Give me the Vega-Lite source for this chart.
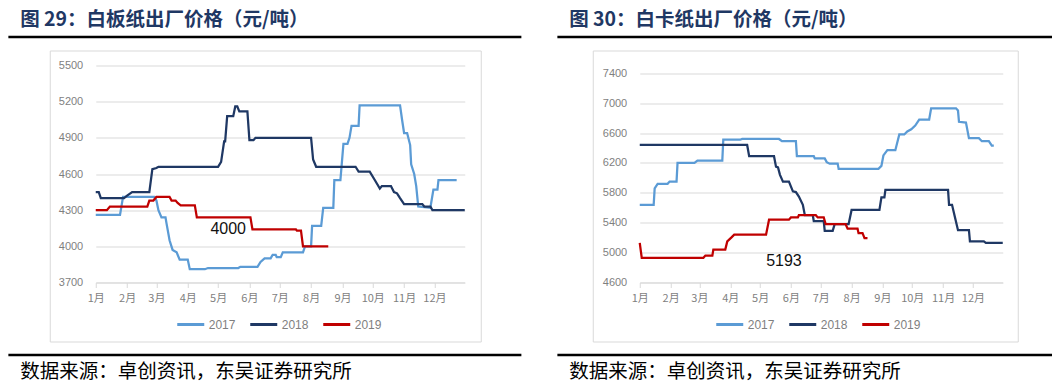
{
  "$schema": "https://vega.github.io/schema/vega-lite/v6.json",
  "padding": {"left": 7, "top": 10, "right": 0, "bottom": 0},
  "background": "white",
  "datasets": {
    "board": [
      {"year":"2017","date":"2017-01-01","price":4260},{"year":"2017","date":"2017-01-25","price":4260},{"year":"2017","date":"2017-01-28","price":4410},{"year":"2017","date":"2017-02-28","price":4410},{"year":"2017","date":"2017-03-01","price":4380},{"year":"2017","date":"2017-03-03","price":4300},{"year":"2017","date":"2017-03-06","price":4240},{"year":"2017","date":"2017-03-10","price":4240},{"year":"2017","date":"2017-03-11","price":4190},{"year":"2017","date":"2017-03-14","price":4050},{"year":"2017","date":"2017-03-17","price":3970},{"year":"2017","date":"2017-03-21","price":3950},{"year":"2017","date":"2017-03-24","price":3890},{"year":"2017","date":"2017-04-01","price":3890},{"year":"2017","date":"2017-04-03","price":3810},{"year":"2017","date":"2017-04-18","price":3810},{"year":"2017","date":"2017-04-21","price":3820},{"year":"2017","date":"2017-05-21","price":3820},{"year":"2017","date":"2017-05-23","price":3830},{"year":"2017","date":"2017-06-09","price":3830},{"year":"2017","date":"2017-06-12","price":3870},{"year":"2017","date":"2017-06-16","price":3900},{"year":"2017","date":"2017-06-22","price":3900},{"year":"2017","date":"2017-06-24","price":3930},{"year":"2017","date":"2017-06-27","price":3930},{"year":"2017","date":"2017-06-28","price":3910},{"year":"2017","date":"2017-07-02","price":3910},{"year":"2017","date":"2017-07-04","price":3950},{"year":"2017","date":"2017-07-24","price":3950},{"year":"2017","date":"2017-07-26","price":4000},{"year":"2017","date":"2017-08-01","price":4000},{"year":"2017","date":"2017-08-02","price":4170},{"year":"2017","date":"2017-08-11","price":4170},{"year":"2017","date":"2017-08-13","price":4320},{"year":"2017","date":"2017-08-23","price":4320},{"year":"2017","date":"2017-08-24","price":4550},{"year":"2017","date":"2017-08-30","price":4550},{"year":"2017","date":"2017-09-02","price":4850},{"year":"2017","date":"2017-09-06","price":4850},{"year":"2017","date":"2017-09-08","price":4900},{"year":"2017","date":"2017-09-10","price":5000},{"year":"2017","date":"2017-09-17","price":5000},{"year":"2017","date":"2017-09-18","price":5170},{"year":"2017","date":"2017-10-28","price":5170},{"year":"2017","date":"2017-10-30","price":5050},{"year":"2017","date":"2017-11-01","price":4940},{"year":"2017","date":"2017-11-04","price":4940},{"year":"2017","date":"2017-11-07","price":4840},{"year":"2017","date":"2017-11-08","price":4680},{"year":"2017","date":"2017-11-11","price":4600},{"year":"2017","date":"2017-11-13","price":4500},{"year":"2017","date":"2017-11-15","price":4330},{"year":"2017","date":"2017-11-27","price":4320},{"year":"2017","date":"2017-11-30","price":4470},{"year":"2017","date":"2017-12-04","price":4470},{"year":"2017","date":"2017-12-05","price":4550},{"year":"2017","date":"2017-12-23","price":4550},
      {"year":"2018","date":"2018-01-01","price":4450},{"year":"2018","date":"2018-01-04","price":4450},{"year":"2018","date":"2018-01-06","price":4400},{"year":"2018","date":"2018-01-29","price":4400},{"year":"2018","date":"2018-02-01","price":4420},{"year":"2018","date":"2018-02-06","price":4450},{"year":"2018","date":"2018-02-23","price":4450},{"year":"2018","date":"2018-02-26","price":4640},{"year":"2018","date":"2018-03-01","price":4650},{"year":"2018","date":"2018-03-03","price":4660},{"year":"2018","date":"2018-05-01","price":4660},{"year":"2018","date":"2018-05-04","price":4700},{"year":"2018","date":"2018-05-07","price":4870},{"year":"2018","date":"2018-05-08","price":4870},{"year":"2018","date":"2018-05-10","price":5080},{"year":"2018","date":"2018-05-16","price":5080},{"year":"2018","date":"2018-05-18","price":5160},{"year":"2018","date":"2018-05-20","price":5160},{"year":"2018","date":"2018-05-22","price":5120},{"year":"2018","date":"2018-05-30","price":5120},{"year":"2018","date":"2018-06-01","price":4880},{"year":"2018","date":"2018-06-05","price":4880},{"year":"2018","date":"2018-06-07","price":4900},{"year":"2018","date":"2018-08-01","price":4900},{"year":"2018","date":"2018-08-03","price":4720},{"year":"2018","date":"2018-08-06","price":4660},{"year":"2018","date":"2018-09-14","price":4660},{"year":"2018","date":"2018-09-17","price":4620},{"year":"2018","date":"2018-09-28","price":4620},{"year":"2018","date":"2018-10-03","price":4550},{"year":"2018","date":"2018-10-08","price":4480},{"year":"2018","date":"2018-10-10","price":4500},{"year":"2018","date":"2018-10-19","price":4500},{"year":"2018","date":"2018-10-22","price":4450},{"year":"2018","date":"2018-10-25","price":4440},{"year":"2018","date":"2018-10-28","price":4400},{"year":"2018","date":"2018-11-01","price":4350},{"year":"2018","date":"2018-11-19","price":4350},{"year":"2018","date":"2018-11-21","price":4330},{"year":"2018","date":"2018-11-27","price":4330},{"year":"2018","date":"2018-11-29","price":4300},{"year":"2018","date":"2018-12-31","price":4300},
      {"year":"2019","date":"2019-01-01","price":4300},{"year":"2019","date":"2019-01-12","price":4300},{"year":"2019","date":"2019-01-15","price":4330},{"year":"2019","date":"2019-02-21","price":4330},{"year":"2019","date":"2019-02-23","price":4380},{"year":"2019","date":"2019-02-27","price":4380},{"year":"2019","date":"2019-03-01","price":4410},{"year":"2019","date":"2019-03-14","price":4410},{"year":"2019","date":"2019-03-16","price":4380},{"year":"2019","date":"2019-03-20","price":4380},{"year":"2019","date":"2019-03-22","price":4360},{"year":"2019","date":"2019-03-25","price":4340},{"year":"2019","date":"2019-04-08","price":4340},{"year":"2019","date":"2019-04-10","price":4240},{"year":"2019","date":"2019-06-02","price":4240},{"year":"2019","date":"2019-06-04","price":4140},{"year":"2019","date":"2019-07-17","price":4140},{"year":"2019","date":"2019-07-18","price":4130},{"year":"2019","date":"2019-07-22","price":4130},{"year":"2019","date":"2019-07-24","price":4000},{"year":"2019","date":"2019-08-18","price":4000}
    ],
    "card": [
      {"year":"2017","date":"2017-01-01","price":5640},{"year":"2017","date":"2017-01-15","price":5640},{"year":"2017","date":"2017-01-16","price":5860},{"year":"2017","date":"2017-01-19","price":5920},{"year":"2017","date":"2017-01-29","price":5920},{"year":"2017","date":"2017-01-31","price":5950},{"year":"2017","date":"2017-02-07","price":5950},{"year":"2017","date":"2017-02-08","price":6200},{"year":"2017","date":"2017-02-25","price":6200},{"year":"2017","date":"2017-02-28","price":6230},{"year":"2017","date":"2017-03-24","price":6230},{"year":"2017","date":"2017-03-25","price":6510},{"year":"2017","date":"2017-04-11","price":6510},{"year":"2017","date":"2017-04-13","price":6520},{"year":"2017","date":"2017-05-20","price":6520},{"year":"2017","date":"2017-05-23","price":6490},{"year":"2017","date":"2017-06-06","price":6490},{"year":"2017","date":"2017-06-07","price":6290},{"year":"2017","date":"2017-06-24","price":6290},{"year":"2017","date":"2017-06-25","price":6260},{"year":"2017","date":"2017-07-05","price":6260},{"year":"2017","date":"2017-07-07","price":6210},{"year":"2017","date":"2017-07-10","price":6190},{"year":"2017","date":"2017-07-18","price":6190},{"year":"2017","date":"2017-07-19","price":6120},{"year":"2017","date":"2017-08-28","price":6120},{"year":"2017","date":"2017-08-31","price":6160},{"year":"2017","date":"2017-09-02","price":6300},{"year":"2017","date":"2017-09-06","price":6370},{"year":"2017","date":"2017-09-14","price":6370},{"year":"2017","date":"2017-09-18","price":6580},{"year":"2017","date":"2017-09-23","price":6580},{"year":"2017","date":"2017-09-26","price":6620},{"year":"2017","date":"2017-09-30","price":6650},{"year":"2017","date":"2017-10-04","price":6700},{"year":"2017","date":"2017-10-08","price":6780},{"year":"2017","date":"2017-10-18","price":6780},{"year":"2017","date":"2017-10-20","price":6930},{"year":"2017","date":"2017-11-14","price":6930},{"year":"2017","date":"2017-11-16","price":6900},{"year":"2017","date":"2017-11-17","price":6750},{"year":"2017","date":"2017-11-24","price":6740},{"year":"2017","date":"2017-11-27","price":6530},{"year":"2017","date":"2017-12-07","price":6530},{"year":"2017","date":"2017-12-10","price":6490},{"year":"2017","date":"2017-12-17","price":6490},{"year":"2017","date":"2017-12-20","price":6430},{"year":"2017","date":"2017-12-22","price":6430},
      {"year":"2018","date":"2018-01-01","price":6440},{"year":"2018","date":"2018-04-18","price":6440},{"year":"2018","date":"2018-04-20","price":6290},{"year":"2018","date":"2018-05-15","price":6290},{"year":"2018","date":"2018-05-17","price":6150},{"year":"2018","date":"2018-05-19","price":6140},{"year":"2018","date":"2018-05-21","price":6040},{"year":"2018","date":"2018-05-24","price":5950},{"year":"2018","date":"2018-05-30","price":5950},{"year":"2018","date":"2018-06-03","price":5820},{"year":"2018","date":"2018-06-06","price":5810},{"year":"2018","date":"2018-06-09","price":5750},{"year":"2018","date":"2018-06-13","price":5640},{"year":"2018","date":"2018-06-15","price":5500},{"year":"2018","date":"2018-06-23","price":5500},{"year":"2018","date":"2018-06-24","price":5420},{"year":"2018","date":"2018-07-04","price":5420},{"year":"2018","date":"2018-07-05","price":5290},{"year":"2018","date":"2018-07-13","price":5290},{"year":"2018","date":"2018-07-15","price":5380},{"year":"2018","date":"2018-07-29","price":5380},{"year":"2018","date":"2018-08-01","price":5570},{"year":"2018","date":"2018-08-29","price":5570},{"year":"2018","date":"2018-08-31","price":5740},{"year":"2018","date":"2018-09-03","price":5740},{"year":"2018","date":"2018-09-04","price":5840},{"year":"2018","date":"2018-11-06","price":5840},{"year":"2018","date":"2018-11-07","price":5640},{"year":"2018","date":"2018-11-10","price":5640},{"year":"2018","date":"2018-11-13","price":5470},{"year":"2018","date":"2018-11-16","price":5300},{"year":"2018","date":"2018-11-27","price":5300},{"year":"2018","date":"2018-11-28","price":5150},{"year":"2018","date":"2018-12-12","price":5150},{"year":"2018","date":"2018-12-14","price":5130},{"year":"2018","date":"2018-12-31","price":5130},
      {"year":"2019","date":"2019-01-01","price":5130},{"year":"2019","date":"2019-01-03","price":4930},{"year":"2019","date":"2019-03-05","price":4930},{"year":"2019","date":"2019-03-07","price":4960},{"year":"2019","date":"2019-03-14","price":4960},{"year":"2019","date":"2019-03-15","price":5040},{"year":"2019","date":"2019-03-27","price":5040},{"year":"2019","date":"2019-03-29","price":5150},{"year":"2019","date":"2019-04-02","price":5200},{"year":"2019","date":"2019-04-05","price":5240},{"year":"2019","date":"2019-05-07","price":5240},{"year":"2019","date":"2019-05-10","price":5440},{"year":"2019","date":"2019-05-30","price":5440},{"year":"2019","date":"2019-06-01","price":5470},{"year":"2019","date":"2019-06-08","price":5470},{"year":"2019","date":"2019-06-09","price":5500},{"year":"2019","date":"2019-06-26","price":5500},{"year":"2019","date":"2019-06-28","price":5470},{"year":"2019","date":"2019-07-04","price":5470},{"year":"2019","date":"2019-07-06","price":5380},{"year":"2019","date":"2019-07-26","price":5380},{"year":"2019","date":"2019-07-28","price":5320},{"year":"2019","date":"2019-08-07","price":5320},{"year":"2019","date":"2019-08-08","price":5260},{"year":"2019","date":"2019-08-12","price":5260},{"year":"2019","date":"2019-08-14","price":5193},{"year":"2019","date":"2019-08-17","price":5193}
    ],
    "one": [{"level": 0}]
  },
  "hconcat": [
    {
      "vconcat": [
        {
          "width": 513, "height": 1,
          "data": {"name": "one"},
          "title": {"text": "图 29：白板纸出厂价格（元/吨）", "anchor": "start", "dx": 13, "offset": -10, "baseline": "alphabetic", "font": "Noto Sans CJK SC", "fontSize": 19.5, "fontWeight": "bold", "color": "#1f3864"},
          "mark": {"type": "rule", "color": "black", "strokeWidth": 2.5},
          "encoding": {"y": {"field": "level", "type": "quantitative", "scale": {"domain": [0, 1]}, "axis": null}}
        },
        {
          "width": 431, "height": 291,
          "view": {"stroke": "#d9d9d9", "strokeWidth": 1},
          "title": {"text": " ", "orient": "left", "offset": 8, "fontSize": 1},
          "layer": [
            {
              "data": {"name": "board"},
              "mark": {"type": "line", "strokeWidth": 2.25},
              "encoding": {
                "x": {"field": "date", "timeUnit": "utcmonthdate", "type": "temporal", "title": null,
                  "scale": {"domain": [{"year": 2012, "month": 1, "date": 1, "utc": true}, {"year": 2012, "month": 12, "date": 31, "utc": true}], "range": [46, 415], "nice": false},
                  "axis": {"values": [{"year":2012,"month":1,"date":1,"utc":true},{"year":2012,"month":2,"date":1,"utc":true},{"year":2012,"month":3,"date":1,"utc":true},{"year":2012,"month":4,"date":1,"utc":true},{"year":2012,"month":5,"date":1,"utc":true},{"year":2012,"month":6,"date":1,"utc":true},{"year":2012,"month":7,"date":1,"utc":true},{"year":2012,"month":8,"date":1,"utc":true},{"year":2012,"month":9,"date":1,"utc":true},{"year":2012,"month":10,"date":1,"utc":true},{"year":2012,"month":11,"date":1,"utc":true},{"year":2012,"month":12,"date":1,"utc":true}],
                    "tickCount": 30, "labelExpr": "utcFormat(datum.value, '%-m') + '月'", "labelOverlap": false, "labelFlush": false, "offset": -59, "grid": false, "domain": true, "domainColor": "#d9d9d9", "ticks": true, "tickColor": "#d9d9d9", "tickSize": 5, "labelPadding": 5, "labelFont": "Noto Sans CJK SC", "labelFontSize": 11, "labelColor": "#7f7f7f"}},
                "y": {"field": "price", "type": "quantitative", "title": null,
                  "scale": {"domain": [3700, 5500], "range": [232, 15], "nice": false, "zero": false},
                  "axis": {"values": [3700, 4000, 4300, 4600, 4900, 5200, 5500], "format": "d", "offset": -46, "grid": true, "gridColor": "#d9d9d9", "domain": false, "ticks": false, "labelPadding": 13, "labelFont": "Liberation Sans", "labelFontSize": 11, "labelColor": "#7f7f7f"}},
                "color": {"field": "year", "type": "nominal",
                  "scale": {"domain": ["2017", "2018", "2019"], "range": ["#5b9bd5", "#1f3864", "#c00000"]},
                  "legend": {"orient": "none", "legendX": 126, "legendY": 259, "direction": "horizontal", "title": null, "symbolType": "stroke", "symbolSize": 729, "symbolStrokeWidth": 3, "labelFont": "Liberation Sans", "labelFontSize": 12, "labelColor": "#7f7f7f", "labelOffset": 3, "columnPadding": 8, "padding": 0}}
              }
            },
            {
              "data": {"values": [{"date": "2019-05-11", "price": 4140, "label": "4000"}]},
              "mark": {"type": "text", "font": "Liberation Sans", "fontSize": 16, "color": "#111111", "align": "center", "baseline": "middle"},
              "encoding": {
                "x": {"field": "date", "timeUnit": "utcmonthdate", "type": "temporal"},
                "y": {"field": "price", "type": "quantitative"},
                "text": {"field": "label"}
              }
            }
          ]
        },
        {
          "width": 513, "height": 1,
          "data": {"name": "one"},
          "title": {"text": "数据来源：卓创资讯，东吴证券研究所", "orient": "bottom", "anchor": "start", "dx": 13, "offset": 7, "baseline": "top", "font": "Noto Sans CJK SC", "fontSize": 19.5, "fontWeight": "normal", "color": "#000000"},
          "mark": {"type": "rule", "color": "black", "strokeWidth": 2.5},
          "encoding": {"y": {"field": "level", "type": "quantitative", "scale": {"domain": [0, 1]}, "axis": null}}
        }
      ],
      "spacing": 10.5,
      "center": true,
      "resolve": {"scale": {"x": "independent", "y": "independent", "color": "independent"}}
    },
    {
      "vconcat": [
        {
          "width": 495, "height": 1,
          "data": {"name": "one"},
          "title": {"text": "图 30：白卡纸出厂价格（元/吨）", "anchor": "start", "dx": 13, "offset": -10, "baseline": "alphabetic", "font": "Noto Sans CJK SC", "fontSize": 19.5, "fontWeight": "bold", "color": "#1f3864"},
          "mark": {"type": "rule", "color": "black", "strokeWidth": 2.5},
          "encoding": {"y": {"field": "level", "type": "quantitative", "scale": {"domain": [0, 1]}, "axis": null}}
        },
        {
          "width": 425, "height": 291,
          "view": {"stroke": "#d9d9d9", "strokeWidth": 1},
          "layer": [
            {
              "data": {"name": "card"},
              "mark": {"type": "line", "strokeWidth": 2.25},
              "encoding": {
                "x": {"field": "date", "timeUnit": "utcmonthdate", "type": "temporal", "title": null,
                  "scale": {"domain": [{"year": 2012, "month": 1, "date": 1, "utc": true}, {"year": 2012, "month": 12, "date": 31, "utc": true}], "range": [47, 410], "nice": false},
                  "axis": {"values": [{"year":2012,"month":1,"date":1,"utc":true},{"year":2012,"month":2,"date":1,"utc":true},{"year":2012,"month":3,"date":1,"utc":true},{"year":2012,"month":4,"date":1,"utc":true},{"year":2012,"month":5,"date":1,"utc":true},{"year":2012,"month":6,"date":1,"utc":true},{"year":2012,"month":7,"date":1,"utc":true},{"year":2012,"month":8,"date":1,"utc":true},{"year":2012,"month":9,"date":1,"utc":true},{"year":2012,"month":10,"date":1,"utc":true},{"year":2012,"month":11,"date":1,"utc":true},{"year":2012,"month":12,"date":1,"utc":true}],
                    "tickCount": 30, "labelExpr": "utcFormat(datum.value, '%-m') + '月'", "labelOverlap": false, "labelFlush": false, "offset": -59, "grid": false, "domain": true, "domainColor": "#d9d9d9", "ticks": true, "tickColor": "#d9d9d9", "tickSize": 5, "labelPadding": 5, "labelFont": "Noto Sans CJK SC", "labelFontSize": 11, "labelColor": "#7f7f7f"}},
                "y": {"field": "price", "type": "quantitative", "title": null,
                  "scale": {"domain": [4600, 7400], "range": [232, 22.7], "nice": false, "zero": false},
                  "axis": {"values": [4600, 5000, 5400, 5800, 6200, 6600, 7000, 7400], "format": "d", "offset": -47, "grid": true, "gridColor": "#d9d9d9", "domain": false, "ticks": false, "labelPadding": 13, "labelFont": "Liberation Sans", "labelFontSize": 11, "labelColor": "#7f7f7f"}},
                "color": {"field": "year", "type": "nominal",
                  "scale": {"domain": ["2017", "2018", "2019"], "range": ["#5b9bd5", "#1f3864", "#c00000"]},
                  "legend": {"orient": "none", "legendX": 122, "legendY": 259, "direction": "horizontal", "title": null, "symbolType": "stroke", "symbolSize": 729, "symbolStrokeWidth": 3, "labelFont": "Liberation Sans", "labelFontSize": 12, "labelColor": "#7f7f7f", "labelOffset": 3, "columnPadding": 8, "padding": 0}}
              }
            },
            {
              "data": {"values": [{"date": "2019-05-25", "price": 4891, "label": "5193"}]},
              "mark": {"type": "text", "font": "Liberation Sans", "fontSize": 16, "color": "#111111", "align": "center", "baseline": "middle"},
              "encoding": {
                "x": {"field": "date", "timeUnit": "utcmonthdate", "type": "temporal"},
                "y": {"field": "price", "type": "quantitative"},
                "text": {"field": "label"}
              }
            }
          ]
        },
        {
          "width": 495, "height": 1,
          "data": {"name": "one"},
          "title": {"text": "数据来源：卓创资讯，东吴证券研究所", "orient": "bottom", "anchor": "start", "dx": 13, "offset": 7, "baseline": "top", "font": "Noto Sans CJK SC", "fontSize": 19.5, "fontWeight": "normal", "color": "#000000"},
          "mark": {"type": "rule", "color": "black", "strokeWidth": 2.5},
          "encoding": {"y": {"field": "level", "type": "quantitative", "scale": {"domain": [0, 1]}, "axis": null}}
        }
      ],
      "spacing": 10.5,
      "center": true,
      "resolve": {"scale": {"x": "independent", "y": "independent", "color": "independent"}}
    }
  ],
  "spacing": 33,
  "resolve": {"scale": {"x": "independent", "y": "independent", "color": "independent"}},
  "config": {
    "view": {"stroke": null},
    "font": "Liberation Sans"
  }
}
